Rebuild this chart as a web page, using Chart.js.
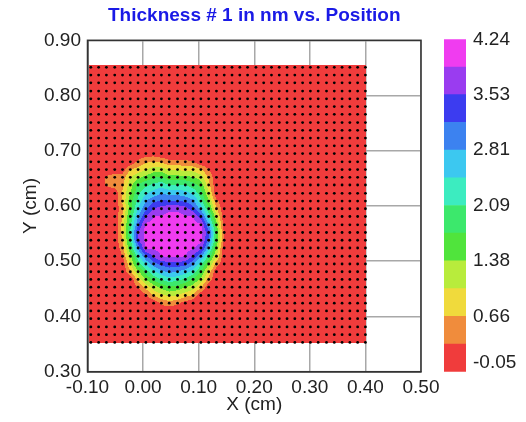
<!DOCTYPE html>
<html>
<head>
<meta charset="utf-8">
<script src="https://cdn.jsdelivr.net/npm/chart.js@4.4.1/dist/chart.umd.min.js"></script>
<style>
html, body { margin: 0; padding: 0; background: #fff; }
#wrap { position: relative; width: 526px; height: 422px; }
#main { position: absolute; left: 0; top: 0; }
#bar { position: absolute; left: 436px; top: 0; }
</style>
</head>
<body>
<div id="wrap">
	<canvas id="main" width="526" height="422"></canvas>
	<canvas id="bar" width="90" height="422"></canvas>
</div>
<script>
// measurement grid (cm), columns left->right and rows top->bottom
const xPos = [-0.094, -0.080, -0.066, -0.051, -0.037, -0.023, -0.009, 0.005, 0.019, 0.033, 0.047, 0.062,
	0.076, 0.090, 0.104, 0.118, 0.132, 0.146, 0.160, 0.174, 0.188, 0.203, 0.217, 0.231,
	0.245, 0.259, 0.273, 0.287, 0.301, 0.315, 0.330, 0.344, 0.358, 0.372, 0.386, 0.400];
const yPos = [0.851, 0.837, 0.823, 0.808, 0.794, 0.780, 0.766, 0.751, 0.737, 0.723, 0.709, 0.695,
	0.680, 0.666, 0.652, 0.638, 0.623, 0.609, 0.595, 0.581, 0.566, 0.552, 0.538, 0.524,
	0.509, 0.495, 0.481, 0.467, 0.453, 0.438, 0.424, 0.410, 0.396, 0.381, 0.367, 0.353];

const baseThickness = 0;
const blobFirstRow = 11;
const blobFirstCol = 2;
const blobRows = [
	[0, 0, 0, 0, 0, 0.1, 0.1, 0, 0, 0, 0, 0, 0, 0, 0, 0],
	[0, 0, 0, 0, 0.4, 0.6, 0.7, 0.6, 0.4, 0.4, 0.4, 0.3, 0, 0, 0, 0],
	[0, 0, 0.1, 0.7, 0.8, 1.0, 1.2, 1.2, 1.0, 1.0, 0.9, 0.9, 0.7, 0.3, 0, 0],
	[0.35, 0.55, 0.5, 1.0, 1.3, 1.5, 1.7, 1.8, 1.5, 1.5, 1.5, 1.4, 1.2, 0.6, 0, 0],
	[0.35, 0.5, 0.6, 1.2, 1.8, 2.0, 2.2, 2.3, 2.1, 2.1, 2.1, 1.9, 1.6, 0.8, 0, 0],
	[0, 0, 0.7, 1.4, 2.0, 2.4, 2.6, 2.8, 2.7, 2.7, 2.6, 2.4, 1.9, 1.1, 0, 0],
	[0, 0, 0.7, 1.6, 2.2, 2.8, 3.1, 3.2, 3.2, 3.2, 3.1, 2.9, 2.2, 1.4, 0.4, 0],
	[0, 0, 0.6, 1.6, 2.5, 3.1, 3.5, 3.7, 3.8, 3.8, 3.7, 3.3, 2.7, 1.8, 0.7, 0],
	[0, 0, 0.7, 1.8, 2.8, 3.5, 3.9, 3.9, 4.0, 4.0, 3.9, 3.9, 3.3, 2.3, 1.1, 0],
	[0, 0, 0.8, 2.0, 3.1, 4.0, 4.0, 4.0, 4.1, 4.1, 4.0, 4.0, 4.0, 2.8, 1.5, 0.1],
	[0, 0, 0.8, 2.1, 3.6, 4.0, 4.0, 4.1, 4.2, 4.2, 4.1, 4.0, 4.0, 3.3, 1.7, 0.2],
	[0, 0, 0.7, 2.0, 3.5, 4.0, 4.0, 4.1, 4.1, 4.1, 4.1, 4.0, 4.0, 3.1, 1.7, 0.2],
	[0, 0, 0.5, 1.7, 2.9, 3.95, 3.95, 4.0, 4.0, 4.0, 4.0, 3.95, 3.7, 2.6, 1.4, 0],
	[0, 0, 0.3, 1.3, 2.3, 3.1, 3.6, 3.9, 3.9, 3.9, 3.9, 3.5, 2.9, 2.0, 1.0, 0],
	[0, 0, 0, 1.0, 1.9, 2.5, 3.0, 3.3, 3.4, 3.4, 3.3, 2.9, 2.2, 1.4, 0.5, 0],
	[0, 0, 0, 0.6, 1.3, 1.9, 2.4, 2.7, 2.9, 2.8, 2.6, 2.3, 1.7, 0.9, 0, 0],
	[0, 0, 0, 0, 0.8, 1.4, 1.8, 2.1, 2.3, 2.2, 2.0, 1.7, 1.3, 0.5, 0, 0],
	[0, 0, 0, 0, 0.3, 0.8, 1.2, 1.5, 1.7, 1.6, 1.4, 1.2, 0.7, 0, 0, 0],
	[0, 0, 0, 0, 0, 0.2, 0.7, 0.9, 1.1, 1.0, 0.8, 0.6, 0, 0, 0, 0],
	[0, 0, 0, 0, 0, 0, 0, 0.4, 0.5, 0.4, 0.1, 0, 0, 0, 0, 0]
];

// colour scale
const bandEdges = [-0.05, 0.3075, 0.665, 1.0225, 1.38, 1.7375, 2.095, 2.4525, 2.81, 3.1675, 3.525, 3.8825, 4.24];
const bandColors = ['#f03c3c', '#f08c3c', '#f0da3c', '#b8ec3c', '#50e43c', '#3ce86c',
	'#3cecc0', '#3cc8f0', '#3c82f0', '#3c3cf0', '#9a3cf0', '#f03cf0'];
const levelLabels = ['-0.05', '0.66', '1.38', '2.09', '2.81', '3.53', '4.24'];

const FONT = 'Liberation Sans, Arial, Helvetica, sans-serif';
Chart.defaults.font.family = FONT;

const thickness = yPos.map((_r, r) => xPos.map((_c, i) => {
	const row = blobRows[r - blobFirstRow];
	const v = row ? row[i - blobFirstCol] : undefined;
	return v === undefined ? baseThickness : v;
}));

const gridPoints = [];
yPos.forEach(y => xPos.forEach(x => gridPoints.push({x: x, y: y})));

const rgbColors = bandColors.map(c => [parseInt(c.slice(1, 3), 16), parseInt(c.slice(3, 5), 16), parseInt(c.slice(5, 7), 16)]);

function fracIndex(arr, v) {
	const n = arr.length;
	const asc = arr[n - 1] > arr[0];
	for (let k = 0; k < n - 1; k++) {
		const a = arr[k], b = arr[k + 1];
		if ((asc && v <= b) || (!asc && v >= b)) return Math.max(0, k + (v - a) / (b - a));
	}
	return n - 1;
}

function bandOf(v) {
	let band = 0;
	for (let k = 1; k < bandEdges.length - 1; k++) if (v >= bandEdges[k]) band = k;
	return band;
}

const fmt = v => (Math.abs(v) < 1e-9 ? 0 : v).toFixed(2);

// filled contour of the thickness grid, painted under the measurement dots
const fieldPlugin = {
	id: 'field',
	beforeDatasetsDraw(chart) {
		const {ctx, scales: {x, y}} = chart;
		const left = Math.floor(x.getPixelForValue(xPos[0]) - 1.5);
		const right = Math.ceil(x.getPixelForValue(xPos[xPos.length - 1]) + 0.5);
		const top = Math.floor(y.getPixelForValue(yPos[0]) - 1.5);
		const bottom = Math.ceil(y.getPixelForValue(yPos[yPos.length - 1]) + 0.5);
		const w = right - left, h = bottom - top;
		const img = ctx.createImageData(w, h);
		const colIdx = [];
		for (let px = 0; px < w; px++) colIdx.push(fracIndex(xPos, x.getValueForPixel(left + px + 0.5)));
		for (let py = 0; py < h; py++) {
			const fy = fracIndex(yPos, y.getValueForPixel(top + py + 0.5));
			const r0 = Math.min(Math.floor(fy), yPos.length - 2), ty = fy - r0;
			for (let px = 0; px < w; px++) {
				const fx = colIdx[px];
				const c0 = Math.min(Math.floor(fx), xPos.length - 2), tx = fx - c0;
				const v = (thickness[r0][c0] * (1 - tx) + thickness[r0][c0 + 1] * tx) * (1 - ty) +
					(thickness[r0 + 1][c0] * (1 - tx) + thickness[r0 + 1][c0 + 1] * tx) * ty;
				const rgb = rgbColors[bandOf(v)];
				const o = (py * w + px) * 4;
				img.data[o] = rgb[0]; img.data[o + 1] = rgb[1]; img.data[o + 2] = rgb[2]; img.data[o + 3] = 255;
			}
		}
		ctx.putImageData(img, left, top);
	},
	afterDatasetsDraw(chart) {
		const {ctx, chartArea: a} = chart;
		ctx.save();
		ctx.strokeStyle = '#333';
		ctx.lineWidth = 1.5;
		ctx.strokeRect(a.left, a.top, a.right - a.left, a.bottom - a.top);
		ctx.restore();
	}
};

new Chart(document.getElementById('main'), {
	type: 'scatter',
	data: {
		datasets: [{
			label: 'points',
			data: gridPoints,
			pointRadius: 1.4,
			pointHoverRadius: 1.4,
			pointBorderWidth: 0,
			backgroundColor: '#000'
		}]
	},
	options: {
		responsive: false,
		animation: false,
		events: [],
		layout: {padding: {left: 21.5, right: 105, top: 0, bottom: 7.5}},
		plugins: {
			legend: {display: false},
			tooltip: {enabled: false},
			title: {
				display: true,
				text: 'Thickness # 1 in nm vs. Position',
				color: '#1a1ae6',
				fullSize: false,
				font: {size: 19, weight: 'bold', lineHeight: 1.2},
				padding: {top: 4.6, bottom: 12.9}
			}
		},
		scales: {
			x: {
				type: 'linear',
				min: -0.1,
				max: 0.5,
				ticks: {stepSize: 0.1, callback: fmt, color: '#222', font: {size: 19}, padding: 5, maxRotation: 0, autoSkip: false},
				grid: {color: '#a8a8a8', lineWidth: 1.5, drawTicks: false},
				border: {color: '#333', width: 1.5},
				title: {display: true, text: 'X (cm)', color: '#222', font: {size: 19, lineHeight: 1}, padding: 0},
				afterFit: s => { s.height = 42.8; }
			},
			y: {
				type: 'linear',
				min: 0.3,
				max: 0.9,
				ticks: {stepSize: 0.1, callback: fmt, color: '#222', font: {size: 19}, padding: 6.5},
				grid: {color: '#a8a8a8', lineWidth: 1.5, drawTicks: false},
				border: {color: '#333', width: 1.5},
				title: {display: true, text: 'Y (cm)', color: '#222', font: {size: 19, lineHeight: 1}, padding: 0},
				afterFit: s => { s.width = 66; }
			}
		}
	},
	plugins: [fieldPlugin]
});

// colour bar
new Chart(document.getElementById('bar'), {
	type: 'bar',
	data: {
		labels: [''],
		datasets: bandColors.map((color, k) => ({
			label: 'band ' + k,
			data: [[bandEdges[k], bandEdges[k + 1]]],
			backgroundColor: color,
			borderWidth: 0,
			grouped: false,
			barPercentage: 1,
			categoryPercentage: 1
		}))
	},
	options: {
		responsive: false,
		animation: false,
		events: [],
		layout: {padding: {left: 8, right: 0, top: 39.3, bottom: 50.3}},
		plugins: {legend: {display: false}, tooltip: {enabled: false}},
		scales: {
			x: {display: false},
			y: {
				position: 'right',
				min: bandEdges[0],
				max: bandEdges[bandEdges.length - 1],
				grid: {display: false, drawTicks: false},
				border: {display: false},
				afterBuildTicks: s => {
					s.ticks = levelLabels.map((_l, k) => ({value: k === 0 ? bandEdges[0] + 0.11 : bandEdges[2 * k]}));
				},
				ticks: {callback: (_v, k) => levelLabels[k], color: '#222', font: {size: 19}, padding: 7},
				afterFit: s => { s.width = 60; }
			}
		}
	}
});
</script>
</body>
</html>
